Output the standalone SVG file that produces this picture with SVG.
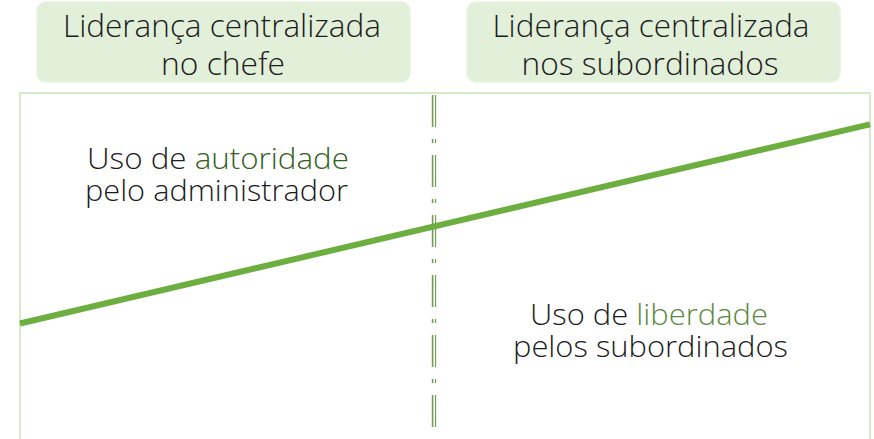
<svg xmlns="http://www.w3.org/2000/svg" width="874" height="439" viewBox="0 0 874 439">
<style>
.box{fill:#e2efd9;stroke:#e8f2e0;stroke-width:1.5}
.t{font-family:"Open Sans","Liberation Sans",sans-serif;font-weight:300;fill:#1c1c1c;text-anchor:middle}
.h{font-size:31px}
.b{font-size:30px}
.frame{fill:none;stroke:#d6e9c9;stroke-width:2}
.vd{stroke:#6e9d50;stroke-dasharray:32 12 4 12;fill:none}
</style>
<rect width="874" height="439" fill="#fff"/>
<g id="header-left">
<rect class="box" x="37" y="2" width="373" height="80" rx="9"/>
<text class="t h"><tspan x="222" y="37" textLength="318" lengthAdjust="spacingAndGlyphs">Liderança centralizada</tspan><tspan x="223" y="75" textLength="124" lengthAdjust="spacingAndGlyphs">no chefe</tspan></text>
</g>
<g id="header-right">
<rect class="box" x="467" y="2" width="373" height="80" rx="9"/>
<text class="t h"><tspan x="651" y="37" textLength="317" lengthAdjust="spacingAndGlyphs">Liderança centralizada</tspan><tspan x="650" y="75" textLength="257" lengthAdjust="spacingAndGlyphs">nos subordinados</tspan></text>
</g>
<g id="frame">
<polyline class="frame" points="20,439 20,93 870,93 870,439"/>
</g>
<g id="connectors">
<line class="vd" x1="432.6" y1="95" x2="432.6" y2="439" stroke-width="1.6"/>
<line class="vd" x1="435.6" y1="95" x2="435.6" y2="439" stroke-width="1.1"/>
<line x1="20" y1="323.5" x2="870" y2="124.3" stroke="#6cae3f" stroke-width="6"/>
</g>
<g id="label-autoridade">
<text class="t b"><tspan x="218" y="169" textLength="262" lengthAdjust="spacingAndGlyphs">Uso de <tspan fill="#355e22">autoridade</tspan></tspan><tspan x="216.5" y="201" textLength="263" lengthAdjust="spacingAndGlyphs">pelo administrador</tspan></text>
</g>
<g id="label-liberdade">
<text class="t b"><tspan x="649" y="325" textLength="238" lengthAdjust="spacingAndGlyphs">Uso de <tspan fill="#5b8a42">liberdade</tspan></tspan><tspan x="650.5" y="357" textLength="275" lengthAdjust="spacingAndGlyphs">pelos subordinados</tspan></text>
</g>
</svg>
